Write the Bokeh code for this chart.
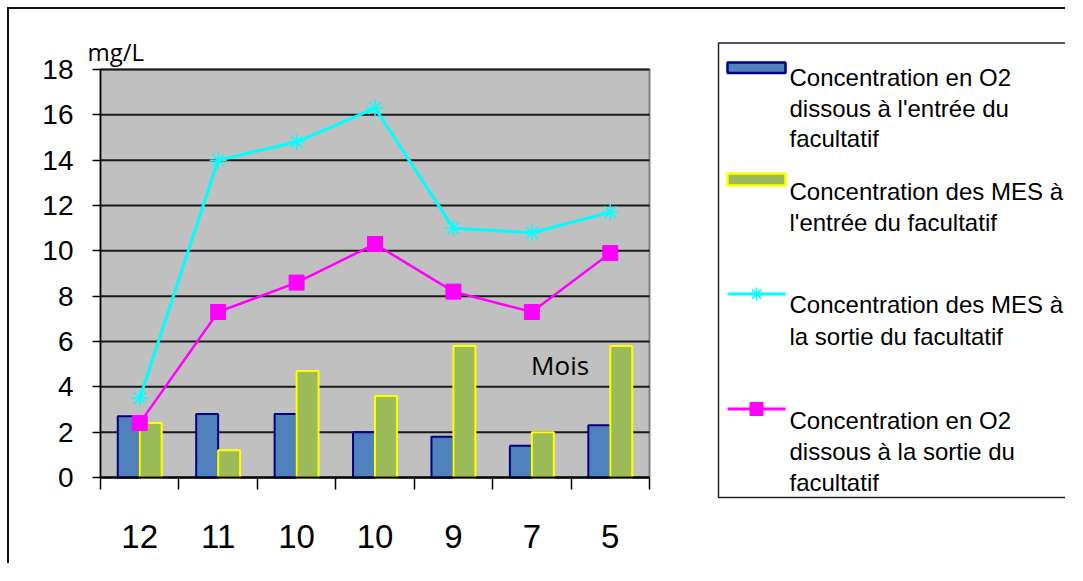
from bokeh.plotting import figure
from bokeh.models import Range1d, FixedTicker, Label
from bokeh.embed import file_html
from bokeh.resources import INLINE
from bokeh.core.properties import value

# ---- data ----
months = ["12", "11", "10", "10", "9", "7", "5"]
o2_entree = [2.7, 2.8, 2.8, 2.0, 1.8, 1.4, 2.3]
mes_entree = [2.4, 1.2, 4.7, 3.6, 5.8, 2.0, 5.8]
mes_sortie = [3.5, 14.0, 14.8, 16.3, 11.0, 10.8, 11.7]
o2_sortie = [2.4, 7.3, 8.6, 10.3, 8.2, 7.3, 9.9]
y_ticks = [0, 2, 4, 6, 8, 10, 12, 14, 16, 18]
legend_lines = [
    ["Concentration en O2", "dissous à l'entrée du", "facultatif"],
    ["Concentration des MES à", "l'entrée du facultatif"],
    ["Concentration des MES à", "la sortie du facultatif"],
    ["Concentration en O2", "dissous à la sortie du", "facultatif"],
]
y_unit = "mg/L"
x_title = "Mois"

BLUE, NAVY = "#4F81BD", "#000080"
GREEN, YELLOW = "#9BBB59", "#FFFF00"
CYAN, MAGENTA = "#00FFFF", "#FF00FF"

n = len(months)
ymax = 18
xc = [i + 0.5 for i in range(n)]
bw = 0.28

# ---- geometry (pixels) ----
W, H = 1058, 556          # canvas size; canvas starts at (9, 9) of the picture
PX0, PY0 = 9, 9
fx0, fx1 = 100, 649       # plot area, picture coordinates
fy0, fy1 = 69, 477
sx = (fx1 - fx0) / n
sy = (fy1 - fy0) / ymax
x_start = -(fx0 - PX0) / sx
x_end = x_start + W / sx
y_start = -((PY0 + H) - fy1) / sy
y_end = y_start + H / sy

p = figure(width=W, height=H, x_range=Range1d(x_start, x_end), y_range=Range1d(y_start, y_end),
           toolbar_location=None, output_backend="svg", min_border=0)
p.background_fill_color = "white"
p.border_fill_color = "white"
p.outline_line_color = None
p.xgrid.visible = False
p.ygrid.visible = False
p.styles = {"margin-left": "7px", "margin-top": "7px",
            "border-top": "2px solid #111111", "border-left": "2px solid #111111"}

# pixel range for the legend (picture coordinates)
p.extra_x_ranges = {"px": Range1d(PX0, PX0 + W)}
p.extra_y_ranges = {"px": Range1d(PY0 + H, PY0)}

# plot area background and grid
p.quad(left=[0], right=[n], bottom=[0], top=[ymax], fill_color="#C0C0C0",
       line_color="#808080", line_width=2)
p.segment(x0=[0] * len(y_ticks), x1=[n] * len(y_ticks), y0=y_ticks, y1=y_ticks,
          line_color="#1a1a1a", line_width=2)

p.vbar(x=[v - bw / 2 for v in xc], top=o2_entree, bottom=0, width=bw,
       fill_color=BLUE, line_color=NAVY, line_width=2)
p.vbar(x=[v + bw / 2 for v in xc], top=mes_entree, bottom=0, width=bw,
       fill_color=GREEN, line_color=YELLOW, line_width=2)

p.line(xc, mes_sortie, line_color=CYAN, line_width=3)
p.scatter(xc, mes_sortie, marker="asterisk", size=17, line_color=CYAN, line_width=1.5)
p.line(xc, o2_sortie, line_color=MAGENTA, line_width=2.5)
p.scatter(xc, o2_sortie, marker="square", size=15, fill_color=MAGENTA, line_color=MAGENTA)

# x axis
xa = p.xaxis[0]
xa.fixed_location = 0
xa.bounds = (0, n)
xa.ticker = FixedTicker(ticks=xc, minor_ticks=list(range(n + 1)))
xa.major_label_overrides = {v: m for v, m in zip(xc, months)}
xa.major_tick_line_color = None
xa.major_tick_out = 0
xa.major_tick_in = 0
xa.minor_tick_out = 12
xa.minor_tick_in = 0
xa.minor_tick_line_color = "black"
xa.minor_tick_line_width = 1.5
xa.axis_line_color = "black"
xa.axis_line_width = 2
xa.major_label_standoff = 35
xa.major_label_text_font = "Liberation Sans Narrow, Liberation Sans"
xa.major_label_text_font_size = "33px"
xa.major_label_text_color = "black"

# y axis
ya = p.yaxis[0]
ya.fixed_location = 0
ya.bounds = (0, ymax)
ya.ticker = FixedTicker(ticks=y_ticks)
ya.minor_tick_line_color = None
ya.major_tick_out = 8
ya.major_tick_in = 0
ya.major_tick_line_color = "black"
ya.major_tick_line_width = 1.5
ya.axis_line_color = "black"
ya.axis_line_width = 1.5
ya.major_label_standoff = 19
ya.major_label_text_font = "Liberation Sans"
ya.major_label_text_font_size = "28px"
ya.major_label_text_color = "black"

p.add_layout(Label(x=-0.166, y=18.8, text=y_unit, text_font="Open Sans",
                   text_font_size="24px", text_color="black", text_baseline="alphabetic"))
p.add_layout(Label(x=5.86, y=4.98, text=x_title, text_font="Open Sans",
                   text_font_size="26px", text_color="black",
                   text_align="center", text_baseline="middle"))

# ---- legend (picture pixel coordinates) ----
R = dict(x_range_name="px", y_range_name="px")
p.quad(left=[718], right=[1066], top=[42.5], bottom=[497], fill_color=None,
       line_color="#222222", line_width=1.5, **R)

gx0, gx1, gxc = 727, 785, 756
p.quad(left=[gx0], right=[gx1], top=[62], bottom=[72.5], fill_color=BLUE,
       line_color=NAVY, line_width=2.5, **R)
p.quad(left=[gx0], right=[gx1], top=[173], bottom=[185], fill_color=GREEN,
       line_color=YELLOW, line_width=2.5, **R)
p.line([gx0, gx1], [293.5, 293.5], line_color=CYAN, line_width=3, **R)
p.scatter([gxc], [293.5], marker="asterisk", size=13, line_color=CYAN, line_width=1.5, **R)
p.line([gx0, gx1], [408.5, 408.5], line_color=MAGENTA, line_width=3, **R)
p.scatter([gxc], [408.5], marker="square", size=13, fill_color=MAGENTA, line_color=MAGENTA, **R)

baselines = [[77, 107.5, 138], [190.5, 222], [304, 336], [419.5, 450.5, 482]]
tx, ty, tt = [], [], []
for lines, bls in zip(legend_lines, baselines):
    for s, b in zip(lines, bls):
        tx.append(789)
        ty.append(b)
        tt.append(s)
p.text(x=tx, y=ty, text=tt, text_font=value("Liberation Sans"), text_font_size="24px",
       text_color="black", text_baseline="alphabetic", text_align="left", **R)

open("out.html", "w").write(file_html(p, INLINE))
